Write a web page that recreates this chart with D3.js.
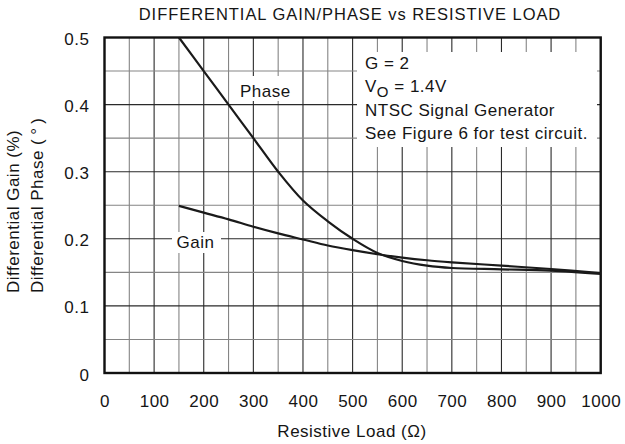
<!DOCTYPE html>
<html>
<head>
<meta charset="utf-8">
<script src="https://cdn.jsdelivr.net/npm/d3@7/dist/d3.min.js"></script>
<style>
  html, body { margin: 0; padding: 0; background: #fff; }
  svg { display: block; }
  text { font-family: "Liberation Sans", Arial, Helvetica, sans-serif; fill: #151515; }
</style>
</head>
<body>
<svg id="chart" width="625" height="444"></svg>
<script>
// ---- data ----
const xTicks = [0, 100, 200, 300, 400, 500, 600, 700, 800, 900, 1000];
const yTicks = [0, 0.1, 0.2, 0.3, 0.4, 0.5];
const xTickLabels = ["0", "100", "200", "300", "400", "500", "600", "700", "800", "900", "1000"];
const yTickLabels = ["0", "0.1", "0.2", "0.3", "0.4", "0.5"];

const phaseLoad  = [150, 200, 250, 300, 350, 400, 450, 500, 550, 600, 650, 700, 800, 900, 1000];
const phaseValue = [0.50, 0.45, 0.40, 0.35, 0.30, 0.257, 0.226, 0.200, 0.179, 0.167, 0.160, 0.1565, 0.1545, 0.1525, 0.1475];

const gainLoad  = [150, 200, 250, 300, 350, 400, 450, 500, 550, 600, 650, 700, 800, 900, 1000];
const gainValue = [0.249, 0.239, 0.229, 0.218, 0.208, 0.199, 0.190, 0.183, 0.177, 0.172, 0.168, 0.165, 0.160, 0.155, 0.149];

const titleText = "DIFFERENTIAL GAIN/PHASE vs RESISTIVE LOAD";
const xTitle = "Resistive Load (\u03A9)";
const yTitle1 = "Differential Gain (%)";
const yTitle2 = "Differential Phase (\u2009\u00B0\u2009)";
const noteLines = ["G = 2", "V|O| = 1.4V", "NTSC Signal Generator", "See Figure 6 for test circuit."];

// ---- layout ----
const svg = d3.select("#chart");
const X0 = 104.5, X1 = 600.7, Y0 = 373, Y1 = 37.5;
const x = d3.scaleLinear().domain([0, 1000]).range([X0, X1]);
const y = d3.scaleLinear().domain([0, 0.5]).range([Y0, Y1]);

// grid
const gx = d3.range(0, 1001, 50);
const gy = d3.range(0, 11).map(i => i * 0.05);
const grid = svg.append("g");
grid.selectAll("line.v").data(gx).enter().append("line")
  .attr("x1", d => x(d)).attr("x2", d => x(d))
  .attr("y1", Y0).attr("y2", Y1)
  .attr("stroke", d => d % 100 === 0 ? "#2a2a2a" : "#858585")
  .attr("stroke-width", 1.1);
grid.selectAll("line.h").data(gy).enter().append("line")
  .attr("y1", d => y(d)).attr("y2", d => y(d))
  .attr("x1", X0).attr("x2", X1)
  .attr("stroke", (d, i) => i % 2 === 0 ? "#2a2a2a" : "#858585")
  .attr("stroke-width", 1.1);

// white label backgrounds
svg.append("rect").attr("x", 357).attr("y", 52).attr("width", 240).attr("height", 95).attr("fill", "#fff");
svg.append("rect").attr("x", 230).attr("y", 76).attr("width", 70).attr("height", 25).attr("fill", "#fff");
svg.append("rect").attr("x", 172).attr("y", 232).attr("width", 49).attr("height", 21).attr("fill", "#fff");

// frame
svg.append("rect").attr("x", X0).attr("y", Y1).attr("width", X1 - X0).attr("height", Y0 - Y1)
  .attr("fill", "none").attr("stroke", "#111").attr("stroke-width", 2.4);

// curves
const line = d3.line().x(d => x(d[0])).y(d => y(d[1])).curve(d3.curveCatmullRom.alpha(0.5));
svg.append("path").datum(phaseLoad.map((v, i) => [v, phaseValue[i]]))
  .attr("d", line).attr("fill", "none").attr("stroke", "#1a1a1a").attr("stroke-width", 2.2);
svg.append("path").datum(gainLoad.map((v, i) => [v, gainValue[i]]))
  .attr("d", line).attr("fill", "none").attr("stroke", "#1a1a1a").attr("stroke-width", 2.2);

// axes
const fs = "17px", ls = "0.5px";
const xAxis = svg.append("g").attr("transform", `translate(0,${Y0})`)
  .call(d3.axisBottom(x).tickValues(xTicks).tickFormat((d, i) => xTickLabels[i]).tickSize(0).tickPadding(0));
xAxis.select(".domain").remove();
xAxis.selectAll("text").attr("dy", null).attr("y", 33.5).attr("dx", 0)
  .style("font-size", fs).style("letter-spacing", ls).attr("fill", "#151515");

const yAxis = svg.append("g").attr("transform", `translate(${X0},0)`)
  .call(d3.axisLeft(y).tickValues(yTicks).tickFormat((d, i) => yTickLabels[i]).tickSize(0).tickPadding(15));
yAxis.select(".domain").remove();
yAxis.selectAll("text").attr("dy", "7").style("font-size", fs).style("letter-spacing", ls).attr("fill", "#151515");

// title
svg.append("text").attr("x", 350).attr("y", 19.5).attr("text-anchor", "middle")
  .style("font-size", "16.5px").style("letter-spacing", "0.95px").text(titleText);

// x title
svg.append("text").attr("x", 352).attr("y", 436.5).attr("text-anchor", "middle")
  .style("font-size", fs).style("letter-spacing", ls).text(xTitle);

// y titles
svg.append("text").attr("transform", "translate(18.5,293) rotate(-90)")
  .style("font-size", fs).style("letter-spacing", ls).text(yTitle1);
svg.append("text").attr("transform", "translate(42.5,293) rotate(-90)")
  .style("font-size", fs).style("letter-spacing", ls).text(yTitle2);

// curve labels
svg.append("text").attr("x", 240).attr("y", 96.5).style("font-size", fs).style("letter-spacing", ls).text("Phase");
svg.append("text").attr("x", 176.5).attr("y", 248.3).style("font-size", fs).style("letter-spacing", ls).text("Gain");

// note
const noteY = [68.5, 92, 115.8, 139.2];
noteLines.forEach((t, i) => {
  const tx = svg.append("text").attr("x", 365).attr("y", noteY[i])
    .style("font-size", fs).style("letter-spacing", ls);
  if (t.includes("|")) {
    const parts = t.split("|");
    tx.append("tspan").text(parts[0]);
    tx.append("tspan").attr("dy", 5).style("font-size", "15px").text(parts[1]);
    tx.append("tspan").attr("dy", -5).text(parts[2]);
  } else {
    tx.text(t);
  }
});
</script>
</body>
</html>
